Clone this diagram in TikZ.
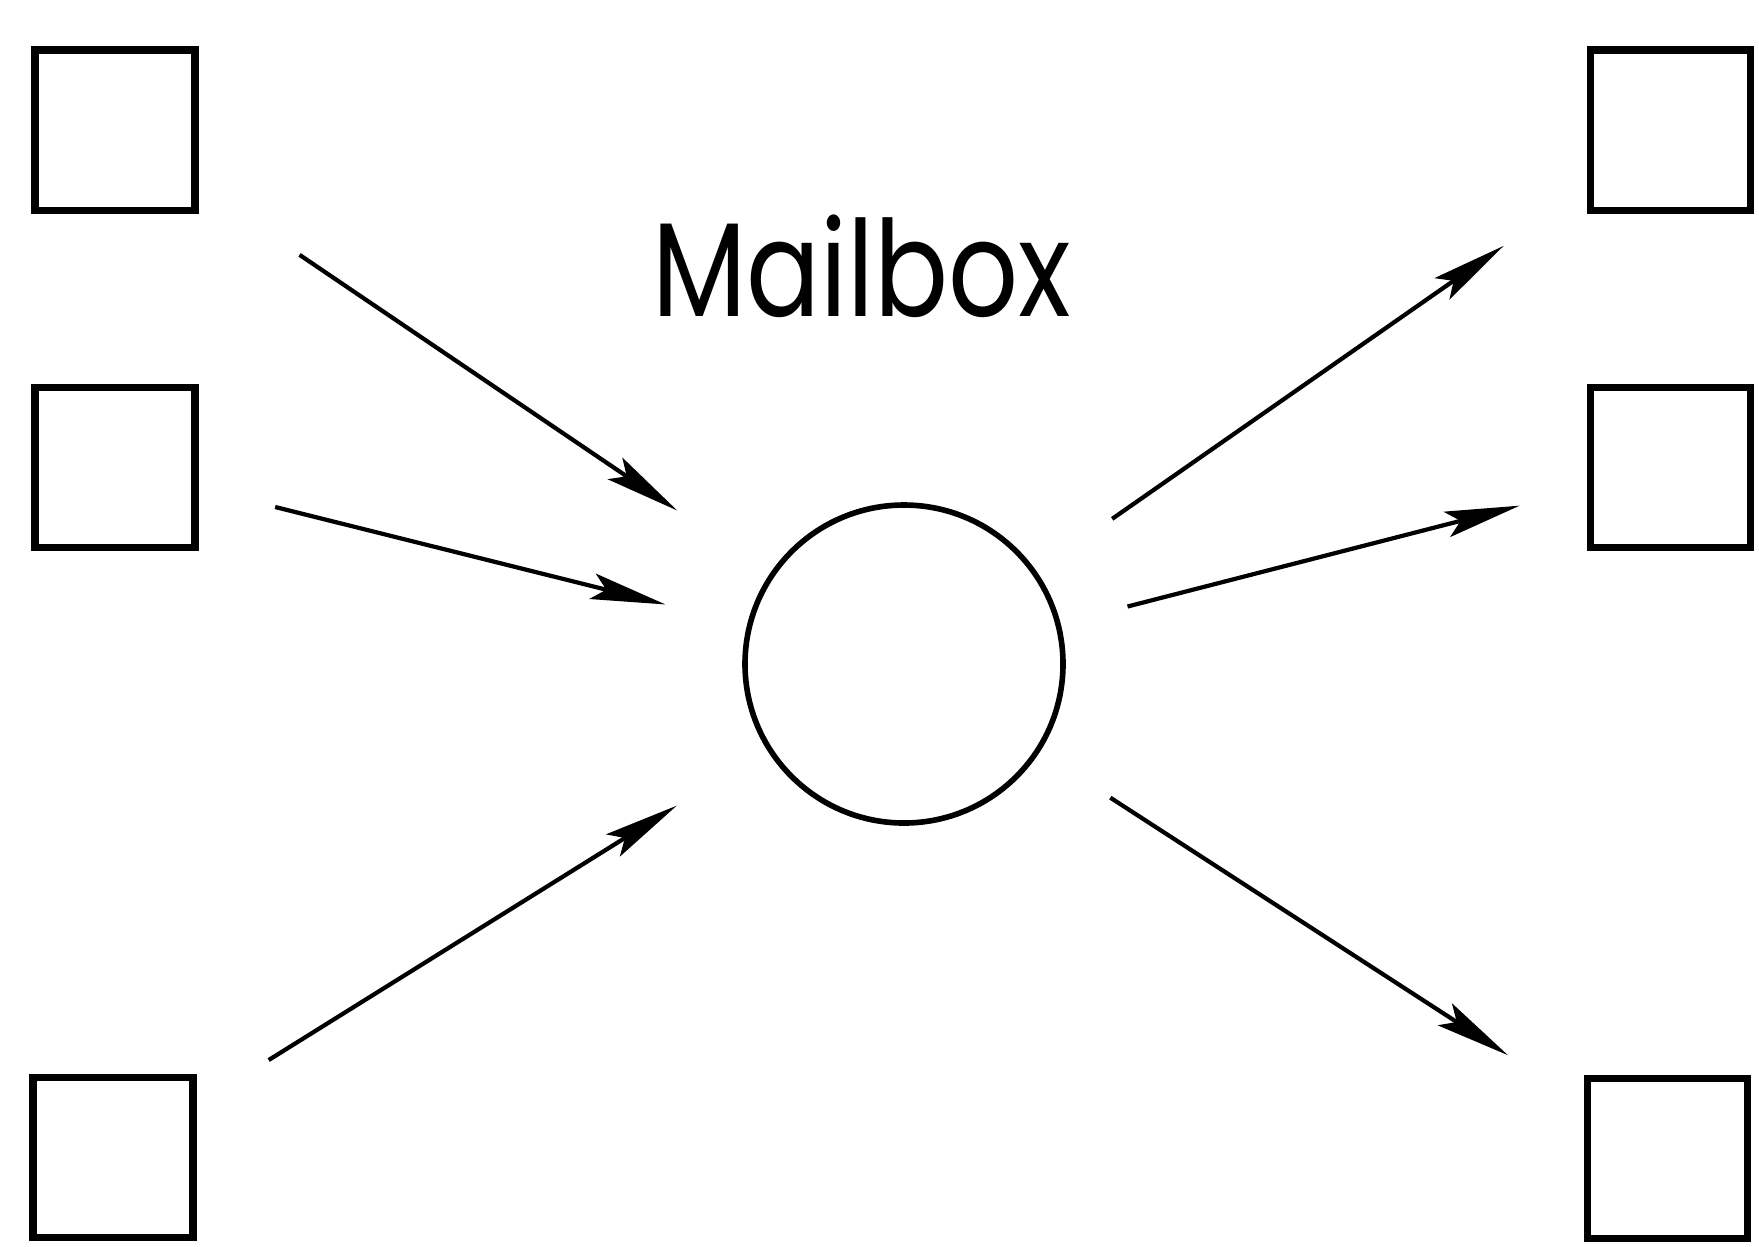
\documentclass[tikz,border=0pt]{standalone}
\usepackage{fontspec}
\newfontfamily\mbfont[FakeStretch=0.82]{Poppins}
\usepackage{tikz}
\usetikzlibrary{positioning,arrows.meta}
\tikzset{->,>={Stealth[length=7.5mm,width=2.6mm,inset=1.4mm]},
bx/.style={rectangle,draw,line width=2pt,minimum width=1.6cm,minimum height=1.6cm,inner sep=0pt},
mb/.style={circle,draw,line width=1.6pt,minimum size=3.18cm,inner sep=0pt},
lbl/.style={font=\mbfont\fontsize{38}{42}\selectfont},
}

\begin{document}
\begin{tikzpicture}[line width=1.2pt]
	\useasboundingbox (0,0) rectangle (17.59,-12.46);

	\node[mb] (mbox) at (9.04,-6.64) {};
	\node[lbl,anchor=base] (name) at (8.62,-3.16) {Mailbox};

	\node[bx] (in1) at (1.15,-1.30) {};
	\node[bx,below=1.7cm of in1] (in2) {};
	\node[bx] (in3) at (1.13,-11.57) {};
	\node[bx] (out1) at (16.70,-1.30) {};
	\node[bx,below=1.7cm of out1] (out2) {};
	\node[bx] (out3) at (16.67,-11.58) {};

	\path
	(in1) edge[shorten <=1.22cm,shorten >=1.12cm] (mbox)
	(in2) edge[shorten <=0.79cm,shorten >=0.84cm] (mbox)
	(in3) edge[shorten <=0.85cm,shorten >=1.06cm] (mbox)
	(mbox) edge[shorten <=0.92cm,shorten >=1.01cm] (out1)
	(mbox) edge[shorten <=0.69cm,shorten >=0.69cm] (out2)
	(mbox) edge[shorten <=0.84cm,shorten >=0.90cm] (out3)
	;
\end{tikzpicture}
\end{document}
